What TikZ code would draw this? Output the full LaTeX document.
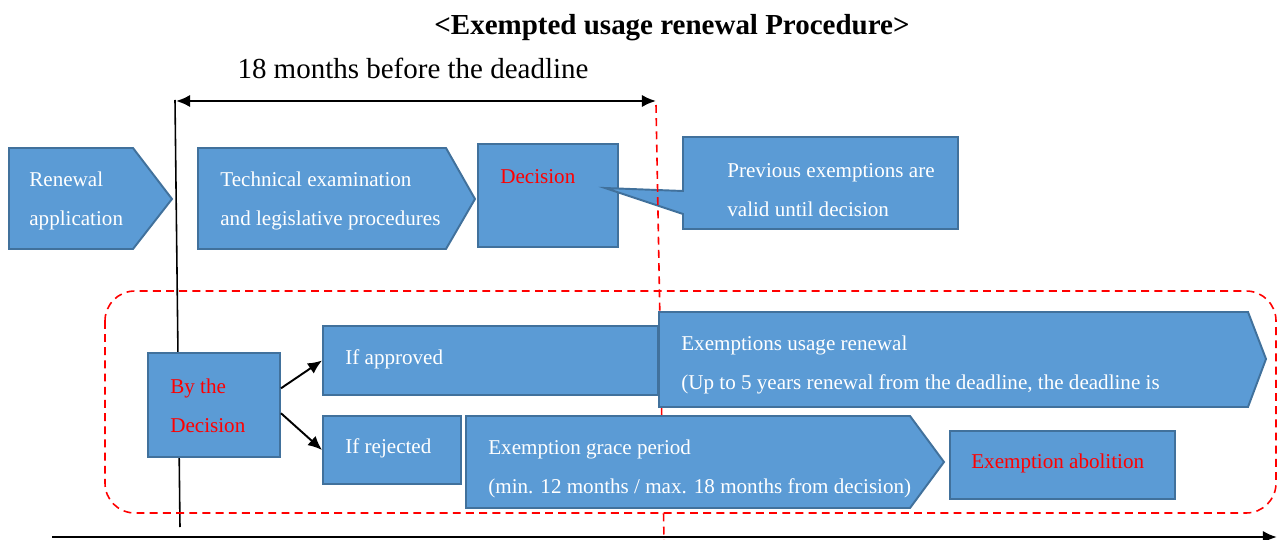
\documentclass[tikz,border=0pt]{standalone}
\usepackage{fontspec}
\setmainfont{Liberation Serif}
\usetikzlibrary{arrows.meta,positioning,fit}

\definecolor{boxblue}{HTML}{5B9BD5}
\definecolor{boxedge}{HTML}{41719C}
\definecolor{decred}{HTML}{FF0000}

\begin{document}
\begin{tikzpicture}[
    x=0.02cm, y=-0.02cm,
    >={Latex[length=8pt,width=7pt]},
    box/.style={draw=boxedge, fill=boxblue, line width=1.1pt},
    fitbox/.style={box, inner sep=0pt, fit={#1}},
    lbl/.style={text=white, align=left, anchor=west, inner sep=0pt, font=\fontsize{12}{22}\selectfont},
    redlbl/.style={lbl, text=decred},
    reddash/.style={draw=decred, line width=0.9pt, dash pattern=on 4.5pt off 3pt}
]
    \useasboundingbox (0,0) rectangle (1277,540);

    % --- 1. Title and span ---
    \node[font=\fontsize{16.5}{20}\selectfont\bfseries] (title) at (672,28) {<Exempted usage renewal Procedure>};
    \node[font=\fontsize{16.5}{20}\selectfont] (spanLbl) at (413,68) {18 months before the deadline};

    \coordinate (spanL) at (176,101);
    \coordinate (spanR) at (656,101);
    \draw[<->, line width=1.3pt] (spanL) -- (spanR);

    % --- 2. Upper row ---
    % Renewal application
    \draw[box] (9,148) -- (133,148) -- (172,199) -- (133,249) -- (9,249) -- cycle;
    \node[lbl] (renewTxt) at (29,201) {Renewal\\application};

    % Technical examination
    \draw[box] (198,148) -- (446,148) -- (475,199) -- (446,249) -- (198,249) -- cycle;
    \node[lbl] (techTxt) at (220,201) {Technical examination\\and legislative procedures};

    % Decision
    \node[fitbox={(478,144) (618,247)}] (decBox) {};
    \node[redlbl] (decTxt) at (500,177) {Decision};

    % callout
    \draw[box] (683,137) -- (958,137) -- (958,229) -- (683,229) -- (683,214)
        -- (605,188) -- (683,191) -- cycle;
    \node[lbl] (prevTxt) at (727,190) {Previous exemptions are\\valid until decision};

    % --- 3. Time lines ---
    \coordinate (deadTop) at (656,105);
    \coordinate (deadBot) at (664,540);
    \draw[reddash] (deadTop) -- (deadBot);

    \coordinate (startTop) at (175,100);
    \coordinate (startBot) at (180,527);
    \draw[line width=0.9pt] (startTop) -- (startBot);

    % dashed frame round the outcome
    \draw[reddash, rounded corners=17pt] (105,291) rectangle (1276,513);

    % --- 4. Outcome of the decision ---
    \node[fitbox={(148,353) (280,457)}] (byDec) {};
    \node[redlbl] (byDecTxt) at (170,406) {By the\\Decision};

    \node[fitbox={(323,326) (658,395)}] (appr) {};
    \node[lbl] (apprTxt) at (345,359) {If approved};

    \node[fitbox={(323,416) (461,484)}] (rej) {};
    \node[lbl] (rejTxt) at (345,448) {If rejected};

    \draw[box] (659,312) -- (1248,312) -- (1266,359) -- (1248,407) -- (659,407) -- cycle;
    \node[lbl] (renewUseTxt) at (681,365) {Exemptions usage renewal\\(Up to 5 years renewal from the deadline, the deadline is};

    \draw[box] (466,416) -- (910,416) -- (944,462) -- (910,508) -- (466,508) -- cycle;
    \node[lbl] (graceTxt) at (488,469) {Exemption grace period\\(min. 12 months / max. 18 months from decision)};

    \node[fitbox={(950,431) (1175,499)}] (abol) {};
    \node[redlbl] (abolTxt) at (971,463) {Exemption abolition};

    % arrows out of the decision
    \draw[->, line width=1.1pt] (byDec.14) -- (appr.west);
    \draw[->, line width=1.1pt] (byDec.-7) -- (rej.west);

    % --- 5. Time axis ---
    \coordinate (axisL) at (52,537);
    \coordinate (axisR) at (1277,537);
    \draw[->, line width=1.5pt] (axisL) -- (axisR);

\end{tikzpicture}
\end{document}
